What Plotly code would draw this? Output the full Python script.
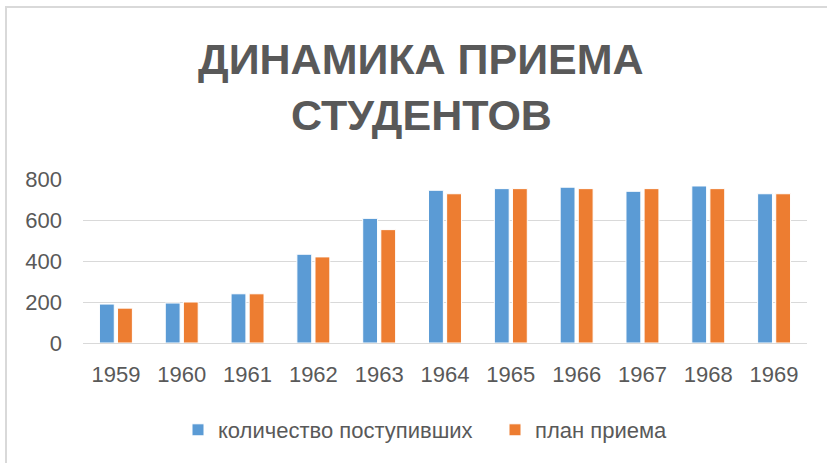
import plotly.graph_objects as go

years = ["1959", "1960", "1961", "1962", "1963", "1964", "1965", "1966", "1967", "1968", "1969"]
admitted = [190, 195, 240, 433, 608, 745, 753, 760, 740, 766, 728]
plan = [170, 200, 240, 420, 553, 728, 753, 753, 753, 753, 728]
series_names = ["количество поступивших", "план приема"]
title_lines = ["ДИНАМИКА ПРИЕМА", "СТУДЕНТОВ"]
y_ticks = [0, 200, 400, 600, 800]

W, H = 827, 463
L, R, T, B = 83, 20, 179, 120
pw, ph = W - L - R, H - T - B

fig = go.Figure()
fig.add_trace(go.Bar(x=years, y=admitted, name=series_names[0],
                     marker=dict(color="#5B9BD5", line=dict(color="#FFFFFF", width=1))))
fig.add_trace(go.Bar(x=years, y=plan, name=series_names[1],
                     marker=dict(color="#ED7D31", line=dict(color="#FFFFFF", width=1))))

def px_x(x):
    return (x - L) / pw

def px_y(y):
    return (H - B - y) / ph

# chart frame (left and top edges)
fig.add_shape(type="line", xref="paper", yref="paper",
              x0=px_x(6), x1=px_x(6), y0=px_y(7), y1=px_y(470),
              line=dict(color="#D9D9D9", width=2))
fig.add_shape(type="line", xref="paper", yref="paper",
              x0=px_x(5), x1=px_x(835), y0=px_y(7), y1=px_y(7),
              line=dict(color="#D9D9D9", width=2))

# title as two lines
for line, yc in zip(title_lines, [59, 115]):
    fig.add_annotation(text=line, xref="paper", yref="paper", x=px_x(421), y=px_y(yc),
                       xanchor="center", yanchor="middle", showarrow=False,
                       font=dict(family="Liberation Sans", size=43, color="#595959", weight="bold"))

fig.update_layout(
    width=W, height=H,
    margin=dict(l=L, r=R, t=T, b=B, pad=0),
    paper_bgcolor="white", plot_bgcolor="white",
    barmode="group", bargap=0.45, bargroupgap=0.18,
    font=dict(family="Liberation Sans", color="#595959"),
    showlegend=True,
    legend=dict(orientation="h", x=px_x(178), xanchor="left", y=px_y(430), yanchor="middle",
                font=dict(size=22, color="#595959"), itemwidth=30,
                entrywidth=272, entrywidthmode="pixels"),
    xaxis=dict(showgrid=False, showline=False, zeroline=False, ticks="",
               tickfont=dict(size=22, color="#595959"), ticklabelstandoff=16),
    yaxis=dict(range=[0, 800], tickvals=y_ticks, showgrid=True, gridcolor="#D9D9D9", gridwidth=1,
               zeroline=True, zerolinecolor="#D9D9D9", zerolinewidth=1, showline=False, ticks="",
               tickfont=dict(size=22, color="#595959"), ticklabelstandoff=20),
)

fig.write_html("out.html", config={"displayModeBar": False},
               post_script="document.body.style.margin='0px';document.body.style.overflow='hidden';")
